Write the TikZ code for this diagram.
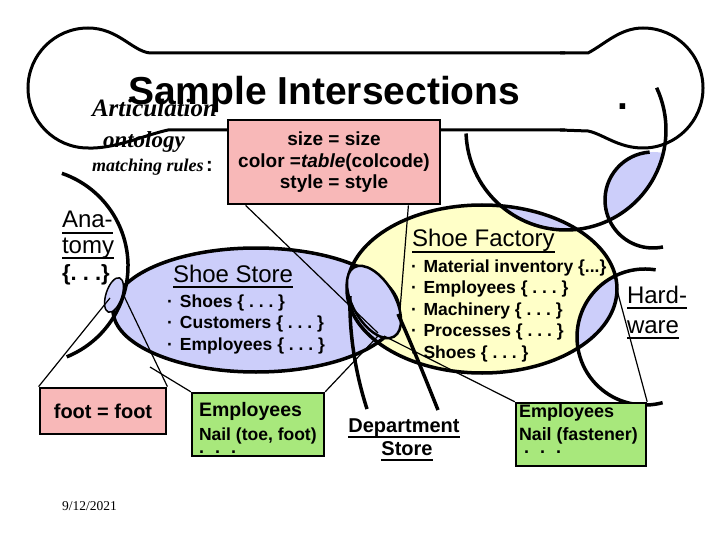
\documentclass[tikz,border=0pt]{standalone}
\usepackage{fontspec}
\setmainfont{Liberation Serif}
\setsansfont{Liberation Sans}
\usetikzlibrary{calc}
\definecolor{pinkf}{RGB}{248,184,184}
\definecolor{greenf}{RGB}{168,232,124}
\definecolor{lavf}{RGB}{204,206,250}
\definecolor{yelf}{RGB}{255,255,200}
\newcommand\undl[1]{\setbox0\hbox{#1}\rlap{\rule[-5.5pt]{\wd0}{1.8pt}}\box0}
\frenchspacing
\begin{document}
\begin{tikzpicture}[x=1pt,y=-1pt,
  thickln/.style={line width=3.5pt},
  bandln/.style={line width=3pt},
  thinln/.style={line width=1.2pt},
  lensln/.style={line width=2.5pt, fill=lavf},
  txt/.style={anchor=base west, inner sep=0pt, outer sep=0pt},
  ctxt/.style={anchor=base, inner sep=0pt, outer sep=0pt},
  boxpink/.style={draw, line width=2.8pt, fill=pinkf, inner sep=0pt},
  boxgreen/.style={draw, line width=2.4pt, fill=greenf, inner sep=0pt},
  titlef/.style={font=\sffamily\bfseries\fontsize{39}{44}\selectfont},
  serbi/.style={font=\bfseries\itshape\fontsize{#1}{#1}\selectfont},
  sansr/.style={font=\sffamily\fontsize{#1}{#1}\selectfont},
  sansb/.style={font=\sffamily\bfseries\fontsize{#1}{#1}\selectfont}
]
\useasboundingbox (0,0) rectangle (720,540);
\fill[white] (0,0) rectangle (720,540);

% region fills
\fill[yelf] (482,289) ellipse [x radius=135, y radius=84];
\fill[lavf] (256,310) ellipse [x radius=143, y radius=62];
\begin{scope}
  \clip (566,130) circle [radius=100];
  \fill[lavf] (482,289) ellipse [x radius=135, y radius=84];
\end{scope}
\begin{scope}
  \clip (566,130) circle [radius=100];
  \fill[lavf] (653,200) circle [radius=48];
\end{scope}
\begin{scope}
  \clip (645,337) circle [radius=68];
  \fill[lavf] (482,289) ellipse [x radius=135, y radius=84];
\end{scope}

% outlines
\draw[thickln] (482,289) ellipse [x radius=135, y radius=84];
\draw[thickln] (256,310) ellipse [x radius=143, y radius=62];
\draw[thickln] (566,130) ++(178:100) arc[start angle=178, end angle=-25, radius=100];
\draw[thickln] (653,200) ++(-94:48) arc[start angle=-94, end angle=-282, radius=48];
\draw[thickln] (645,337) ++(-81:68) arc[start angle=-81, end angle=-285, radius=68];
\draw[thickln] (30,266) ++(-71:98) arc[start angle=-71, end angle=68, radius=98];

% title band
\draw[bandln] (565,53) -- (150,53) .. controls (132,51) and (118,28) .. (88,28)
  arc[start angle=-90, end angle=-270, radius=60]
  .. controls (115,149) and (145,135) .. (168,130) -- (565,130);
\draw[bandln] (560,53) -- (588,53) .. controls (605,44) and (620,28) .. (643,28)
  arc[start angle=-90, end angle=90, radius=60]
  .. controls (618,148) and (603,134) .. (588,131) -- (560,130);

% lenses drawn as shapes
\draw[lensln, rotate around={-60:(374,302)}] (374,302) ellipse [x radius=40, y radius=21];
\draw[lensln, line width=1.5pt, rotate around={72:(114,295)}] (114,295) ellipse [x radius=18, y radius=8];

% department store arcs
\draw[thickln] (350,296) .. controls (349,335) and (356,375) .. (367,409);
\draw[thickln] (398,314) .. controls (412,345) and (426,380) .. (438,410);

% boxes
\node[boxpink, minimum width=212pt, minimum height=84pt] (rules) at (334,162) {};
\node[boxpink, minimum width=126pt, minimum height=46pt, sansb=20] (foot) at (103,411) {foot = foot};
\node[boxgreen, minimum width=132pt, minimum height=63pt] (green1) at (258,424.5) {};
\node[boxgreen, minimum width=130pt, minimum height=63pt] (green2) at (581,434.5) {};

% connector end points
\coordinate (l1a) at (378,333);
\coordinate (l1b) at (400,310);
\coordinate (l1c) at (378,336);
\coordinate (l1d) at (384,336);
\coordinate (l0a) at (110,298);
\coordinate (l0b) at (124,296);
\coordinate (st) at (150,367);
\coordinate (l4) at (617,290);

\draw[thinln] ($(rules.south west)+(19,0)$) -- (l1a);
\draw[thinln] ($(rules.south east)+(-33,0)$) -- (l1b);
\draw[thinln] (green1.north east) -- (l1c);
\draw[thinln] (green1.north west) -- (st);
\draw[thinln] (foot.north west) -- (l0a);
\draw[thinln] (foot.north east) -- (l0b);
\draw[thinln] (green2.north west) -- (l1d);
\draw[thinln] (green2.north east) -- (l4);

% texts
\node[txt, titlef] (title) at (128,105) {Sample Intersections};
\node[txt, titlef] (dot) at (617,110) {.};
\node[txt, serbi=25] (artic) at (92,117) {Articulation};
\node[txt, serbi=23] (onto) at (103,148) {ontology};
\node[txt, serbi=18] (match) at (92,172) {matching rules};
\node[txt, sansb=20] (colon) at (206,172) {:};

\node[ctxt, sansb=19] (r1) at (334,146) {size = size};
\node[ctxt, sansb=19] (r2) at (334,167.5) {color =\textit{table}(colcode)};
\node[ctxt, sansb=19] (r3) at (334,189) {style = style};

\node[txt, sansr=24] (ana1) at (62,228) {\undl{Ana-}};
\node[txt, sansr=24] (ana2) at (62,253) {\undl{tomy}};
\node[txt, sansb=22] (ana3) at (62,280) {\{. . .\}};

\node[txt, sansr=24] (sshead) at (173,282) {\undl{Shoe Store}};
\node[txt, sansb=17.5] (ss1) at (167,307) {\makebox[13pt][l]{·}Shoes \{ . . . \}};
\node[txt, sansb=17.5] (ss2) at (167,328.5) {\makebox[13pt][l]{·}Customers \{ . . . \}};
\node[txt, sansb=17.5] (ss3) at (167,350) {\makebox[13pt][l]{·}Employees \{ . . . \}};

\node[txt, sansr=24] (sfhead) at (412,247) {\undl{Shoe Factory}};
\node[txt, sansb=17.5] (sf1) at (411,272) {\makebox[12.5pt][l]{·}Material inventory \{...\}};
\node[txt, sansb=17.5] (sf2) at (411,293.5) {\makebox[12.5pt][l]{·}Employees \{ . . . \}};
\node[txt, sansb=17.5] (sf3) at (411,315) {\makebox[12.5pt][l]{·}Machinery \{ . . . \}};
\node[txt, sansb=17.5] (sf4) at (411,336.5) {\makebox[12.5pt][l]{·}Processes \{ . . . \}};
\node[txt, sansb=17.5] (sf5) at (411,358) {\makebox[12.5pt][l]{·}Shoes \{ . . . \}};

\node[txt, sansr=24] (hw1) at (627,303) {\undl{Hard-}};
\node[txt, sansr=24] (hw2) at (627,333) {\undl{ware}};

\node[txt, sansb=19.5] (g1a) at (199,416) {Employees};
\node[txt, sansb=17.5] (g1b) at (199,440) {Nail (toe, foot)};
\node[txt, sansb=18] (g1c) at (199,453) {.\hspace{11pt}.\hspace{11pt}.};

\node[txt, sansb=18] (g2a) at (519,417) {Employees};
\node[txt, sansb=17.8] (g2b) at (519,440) {Nail (fastener)};
\node[txt, sansb=18] (g2c) at (524,453) {.\hspace{11pt}.\hspace{11pt}.};

\node[ctxt, sansb=20] (dep1) at (404,432) {\undl{Department}};
\node[ctxt, sansb=20] (dep2) at (407,455) {\undl{Store}};

\node[txt, font=\fontsize{13.5}{14}\selectfont] (date) at (62,510) {9/12/2021};
\end{tikzpicture}
\end{document}
